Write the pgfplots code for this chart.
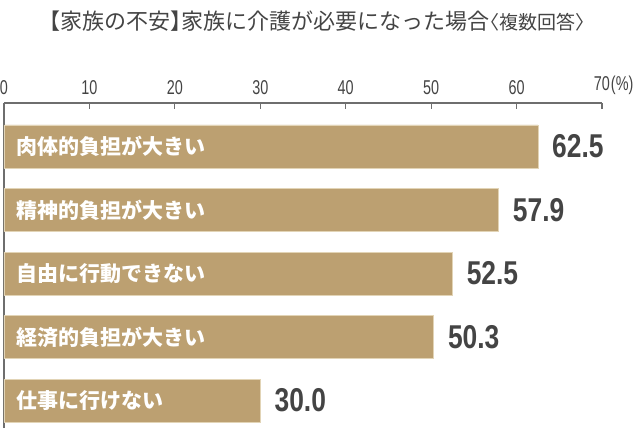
\documentclass[border=0pt]{standalone}
\usepackage{pgfplots}
\pgfplotsset{compat=1.18}
\usepackage{fontspec}
\setmainfont{Noto Sans CJK JP}
\newfontfamily\jp{Noto Sans CJK JP}
\newfontfamily\jph[RawFeature=+halt]{Noto Sans CJK JP}
\newfontfamily\cond[FakeStretch=0.8]{Liberation Sans}
\newfontfamily\condt[FakeStretch=0.72]{Liberation Sans}
\newcommand\tl{\condt\fontsize{20}{20}\selectfont}
\definecolor{barc}{HTML}{BCA071}
\definecolor{baredge}{HTML}{E2D4B6}
\definecolor{txt}{HTML}{444444}
\definecolor{axisgray}{HTML}{6E6E6E}
\begin{document}
\begin{tikzpicture}
\useasboundingbox (0,0) rectangle (640pt,-431pt);
\node[text=txt, font=\jp\fontsize{22}{22}\selectfont, inner sep=0pt] at (317pt,-21pt)
  {{\jph 【}家族の不安{\jph 】}家族に介護が必要になった場合{\fontsize{19}{19}\selectfont{\jph 〈}複数回答{\jph 〉}}};
\begin{axis}[
  at={(4pt,-103pt)}, anchor=north west,
  scale only axis, width=598pt, height=325pt,
  xmin=0, xmax=70, ymin=-0.433, ymax=4.685,
  axis x line*=top, axis y line*=left,
  ytick=\empty, xtick={0,10,...,70},
  xticklabels={{\tl 0},{\tl 10},{\tl 20},{\tl 30},{\tl 40},{\tl 50},{\tl 60},{\tl 70\rlap{\kern1pt(\%)}}},
  tick align=inside, major tick length=6pt,
  axis line style={draw=axisgray, line width=1.1pt},
  tick style={draw=axisgray, line width=1.1pt},
  xticklabel style={anchor=south, inner sep=0pt, yshift=8pt, text=txt},
  /pgf/number format/assume math mode=true,
  xbar, bar width=43pt, clip=false,
  point meta=x,
  nodes near coords={\pgfmathprintnumber[fixed,fixed zerofill,precision=1]{\pgfplotspointmeta}},
  nodes near coords style={anchor=west, inner sep=0pt, xshift=14pt, text=txt, font=\cond\bfseries\fontsize{33}{33}\selectfont},
]
\addplot[fill=barc, draw=baredge, line width=0.6pt] coordinates {(62.5,4) (57.9,3) (52.5,2) (50.3,1) (30.0,0)};
\begin{scope}[every node/.style={anchor=west, xshift=12pt, inner sep=0pt, text=white, font=\jp\bfseries\fontsize{21}{21}\selectfont}]
\node at (axis cs:0,4) {肉体的負担が大きい};
\node at (axis cs:0,3) {精神的負担が大きい};
\node at (axis cs:0,2) {自由に行動できない};
\node at (axis cs:0,1) {経済的負担が大きい};
\node at (axis cs:0,0) {仕事に行けない};
\end{scope}
\end{axis}
\end{tikzpicture}
\end{document}
